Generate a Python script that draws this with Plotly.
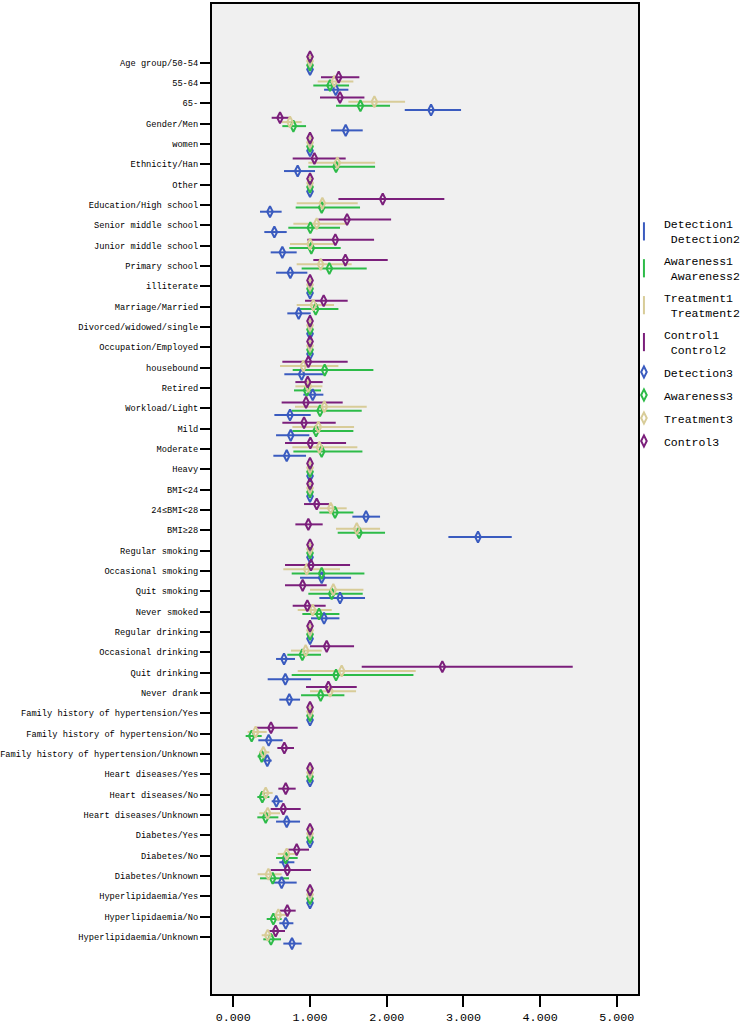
import plotly.graph_objects as go

categories = [
    "Age group/50-54", "55-64", "65-", "Gender/Men", "women", "Ethnicity/Han", "Other",
    "Education/High school", "Senior middle school", "Junior middle school", "Primary school",
    "illiterate", "Marriage/Married", "Divorced/widowed/single", "Occupation/Employed",
    "housebound", "Retired", "Workload/Light", "Mild", "Moderate", "Heavy", "BMI<24",
    "24≤BMI<28", "BMI≥28", "Regular smoking", "Occasional smoking", "Quit smoking",
    "Never smoked", "Regular drinking", "Occasional drinking", "Quit drinking", "Never drank",
    "Family history of hypertension/Yes", "Family history of hypertension/No",
    "Family history of hypertension/Unknown", "Heart diseases/Yes", "Heart diseases/No",
    "Heart diseases/Unknown", "Diabetes/Yes", "Diabetes/No", "Diabetes/Unknown",
    "Hyperlipidaemia/Yes", "Hyperlipidaemia/No", "Hyperlipidaemia/Unknown",
]

# Detection: OR (3), lower (1), upper (2)
detection_or = [1, 1.335, 2.578, 1.465, 1, 0.839, 1, 0.478, 0.535, 0.639, 0.743, 1, 0.852, 1, 1,
                0.891, 1.035, 0.739, 0.748, 0.696, 1, 1, 1.730, 3.19, 1, 1.152, 1.391, 1.183, 1,
                0.661, 0.678, 0.730, 1, 0.461, 0.443, 1, 0.561, 0.696, 1, 0.674, 0.630, 1, 0.683, 0.765]
detection_lo = [1, 1.183, 2.235, 1.274, 1, 0.661, 1, 0.348, 0.404, 0.487, 0.557, 1, 0.704, 1, 1,
                0.665, 0.913, 0.535, 0.557, 0.522, 1, 1, 1.552, 2.804, 1, 0.870, 1.122, 1.013, 1,
                0.557, 0.448, 0.600, 1, 0.326, 0.391, 1, 0.500, 0.557, 1, 0.600, 0.500, 1, 0.600, 0.652]
detection_hi = [1, 1.500, 2.969, 1.687, 1, 1.065, 1, 0.630, 0.696, 0.826, 0.965, 1, 1.009, 1, 1,
                1.174, 1.174, 1.009, 0.991, 0.948, 1, 1, 1.913, 3.630, 1, 1.535, 1.717, 1.383, 1,
                0.804, 1.013, 0.870, 1, 0.643, 0.500, 1, 0.643, 0.870, 1, 0.796, 0.826, 1, 0.783, 0.891]

awareness_or = [1, 1.260, 1.657, 0.783, 1, 1.339, 1, 1.152, 1.004, 1.017, 1.252, 1, 1.074, 1, 1,
                1.191, 0.957, 1.130, 1.078, 1.152, 1, 1, 1.326, 1.639, 1, 1.152, 1.283, 1.117, 1,
                0.900, 1.339, 1.139, 1, 0.239, 0.370, 1, 0.378, 0.422, 1, 0.683, 0.513, 1, 0.522, 0.491]
awareness_lo = [1, 1.043, 1.339, 0.639, 1, 0.978, 1, 0.813, 0.717, 0.730, 0.891, 1, 0.870, 1, 1,
                0.774, 0.791, 0.761, 0.770, 0.783, 1, 1, 1.122, 1.361, 1, 0.761, 0.978, 0.900, 1,
                0.704, 0.761, 0.883, 1, 0.161, 0.317, 1, 0.313, 0.313, 1, 0.557, 0.348, 1, 0.435, 0.391]
awareness_hi = [1, 1.509, 2.043, 0.948, 1, 1.848, 1, 1.652, 1.391, 1.400, 1.739, 1, 1.370, 1, 1,
                1.826, 1.143, 1.674, 1.565, 1.683, 1, 1, 1.565, 1.978, 1, 1.709, 1.687, 1.383, 1,
                1.143, 2.348, 1.448, 1, 0.370, 0.435, 1, 0.470, 0.587, 1, 0.839, 0.726, 1, 0.630, 0.622]

treatment_or = [1, 1.317, 1.839, 0.739, 1, 1.357, 1, 1.161, 1.087, 1.000, 1.139, 1, 1.043, 1, 1,
                0.913, 0.978, 1.187, 1.109, 1.122, 1, 1, 1.270, 1.609, 1, 0.957, 1.304, 1.035, 1,
                0.943, 1.413, 1.261, 1, 0.291, 0.391, 1, 0.422, 0.448, 1, 0.696, 0.457, 1, 0.587, 0.448]
treatment_lo = [1, 1.100, 1.500, 0.630, 1, 0.978, 1, 0.826, 0.783, 0.739, 0.826, 1, 0.826, 1, 1,
                0.609, 0.809, 0.804, 0.770, 0.770, 1, 1, 1.122, 1.339, 1, 0.652, 1.000, 0.839, 1,
                0.752, 0.839, 1.000, 1, 0.187, 0.335, 1, 0.348, 0.339, 1, 0.578, 0.317, 1, 0.513, 0.370]
treatment_hi = [1, 1.565, 2.239, 0.891, 1, 1.848, 1, 1.622, 1.478, 1.348, 1.543, 1, 1.313, 1, 1,
                1.370, 1.161, 1.739, 1.574, 1.617, 1, 1, 1.478, 1.913, 1, 1.391, 1.696, 1.283, 1,
                1.152, 2.378, 1.600, 1, 0.435, 0.470, 1, 0.513, 0.609, 1, 0.839, 0.630, 1, 0.696, 0.565]

control_or = [1, 1.374, 1.391, 0.609, 1, 1.057, 1, 1.948, 1.483, 1.330, 1.461, 1, 1.178, 1, 1,
              0.978, 0.970, 0.948, 0.922, 1.004, 1, 1, 1.087, 0.978, 1, 1.013, 0.904, 0.965, 1,
              1.217, 2.725, 1.239, 1, 0.491, 0.665, 1, 0.683, 0.652, 1, 0.826, 0.704, 1, 0.704, 0.552]
control_lo = [1, 1.143, 1.130, 0.500, 1, 0.774, 1, 1.370, 1.109, 0.965, 1.043, 1, 0.935, 1, 1,
              0.639, 0.809, 0.630, 0.639, 0.674, 1, 1, 0.922, 0.809, 1, 0.674, 0.674, 0.774, 1,
              1.000, 1.674, 0.948, 1, 0.304, 0.574, 1, 0.587, 0.487, 1, 0.717, 0.487, 1, 0.609, 0.470]
control_hi = [1, 1.643, 1.709, 0.730, 1, 1.465, 1, 2.751, 2.057, 1.835, 2.013, 1, 1.491, 1, 1,
              1.491, 1.165, 1.426, 1.335, 1.470, 1, 1, 1.248, 1.165, 1, 1.522, 1.217, 1.204, 1,
              1.574, 4.425, 1.609, 1, 0.839, 0.791, 1, 0.813, 0.878, 1, 0.987, 1.013, 1, 0.813, 0.674]

x_ticks = [0, 1, 2, 3, 4, 5]

series = [
    ("Detection", detection_or, detection_lo, detection_hi, "#3a5bbf", 0.33),
    ("Awareness", awareness_or, awareness_lo, awareness_hi, "#2dbb48", 0.12),
    ("Treatment", treatment_or, treatment_lo, treatment_hi, "#d8cc98", -0.08),
    ("Control", control_or, control_lo, control_hi, "#7b1f7b", -0.29),
]

FONT = "Liberation Mono"
fig = go.Figure()
idx = list(range(len(categories)))

# CI lines (high-low)
for name, o, lo, hi, col, off in series:
    fig.add_trace(go.Scatter(
        x=o, y=[i + off for i in idx], mode="markers",
        marker=dict(color="rgba(0,0,0,0)", size=1),
        error_x=dict(type="data", symmetric=False,
                     array=[h - v for h, v in zip(hi, o)],
                     arrayminus=[v - l for v, l in zip(o, lo)],
                     width=0, thickness=2, color=col),
        showlegend=False, hoverinfo="skip",
    ))

# Legend entries for the interval series
for name, o, lo, hi, col, off in series:
    fig.add_trace(go.Scatter(
        x=[None], y=[None], mode="markers",
        name=f"{name}1<br> {name}2", legendgroup=name + "12",
        marker=dict(symbol="line-ns-open", size=13, color=col, line=dict(width=2, color=col)),
    ))

# OR diamonds
for name, o, lo, hi, col, off in series:
    fig.add_trace(go.Scatter(
        x=o, y=[i + off for i in idx], mode="markers",
        name=f"{name}3", legendgroup=name + "3",
        marker=dict(symbol="diamond-tall-open", size=8, color=col, line=dict(width=2, color=col)),
    ))

fig.update_layout(
    template="none",
    width=743, height=1026,
    margin=dict(l=212, r=105, t=4, b=32, pad=0, autoexpand=False),
    paper_bgcolor="white", plot_bgcolor="#f0f0f0",
    font=dict(family=FONT, color="black"),
    showlegend=True,
    legend=dict(x=0.967, xanchor="left", y=0.792, yanchor="top",
                bgcolor="rgba(0,0,0,0)", borderwidth=0,
                font=dict(family=FONT, size=11.5, color="black"),
                traceorder="grouped", tracegroupgap=4),
    xaxis=dict(range=[-0.278, 5.276], tickvals=x_ticks, tickformat=".3f",
               ticks="outside", ticklen=11, tickwidth=2, tickcolor="black",
               showline=True, linewidth=2, linecolor="black", mirror=True,
               showgrid=False, zeroline=False, automargin=False,
               tickfont=dict(family=FONT, size=11.7, color="black")),
    yaxis=dict(range=[45.81, -2.887], tickvals=idx, ticktext=categories,
               ticks="outside", ticklen=10, tickwidth=2, tickcolor="black",
               showline=True, linewidth=2, linecolor="black", mirror=True,
               showgrid=False, zeroline=False, automargin=False,
               tickfont=dict(family=FONT, size=8.7, color="black")),
)

fig.write_html("out.html",
               config={"displayModeBar": False},
               post_script="document.body.style.margin='0';document.body.style.padding='0';"
                           "document.body.style.overflow='hidden';")
